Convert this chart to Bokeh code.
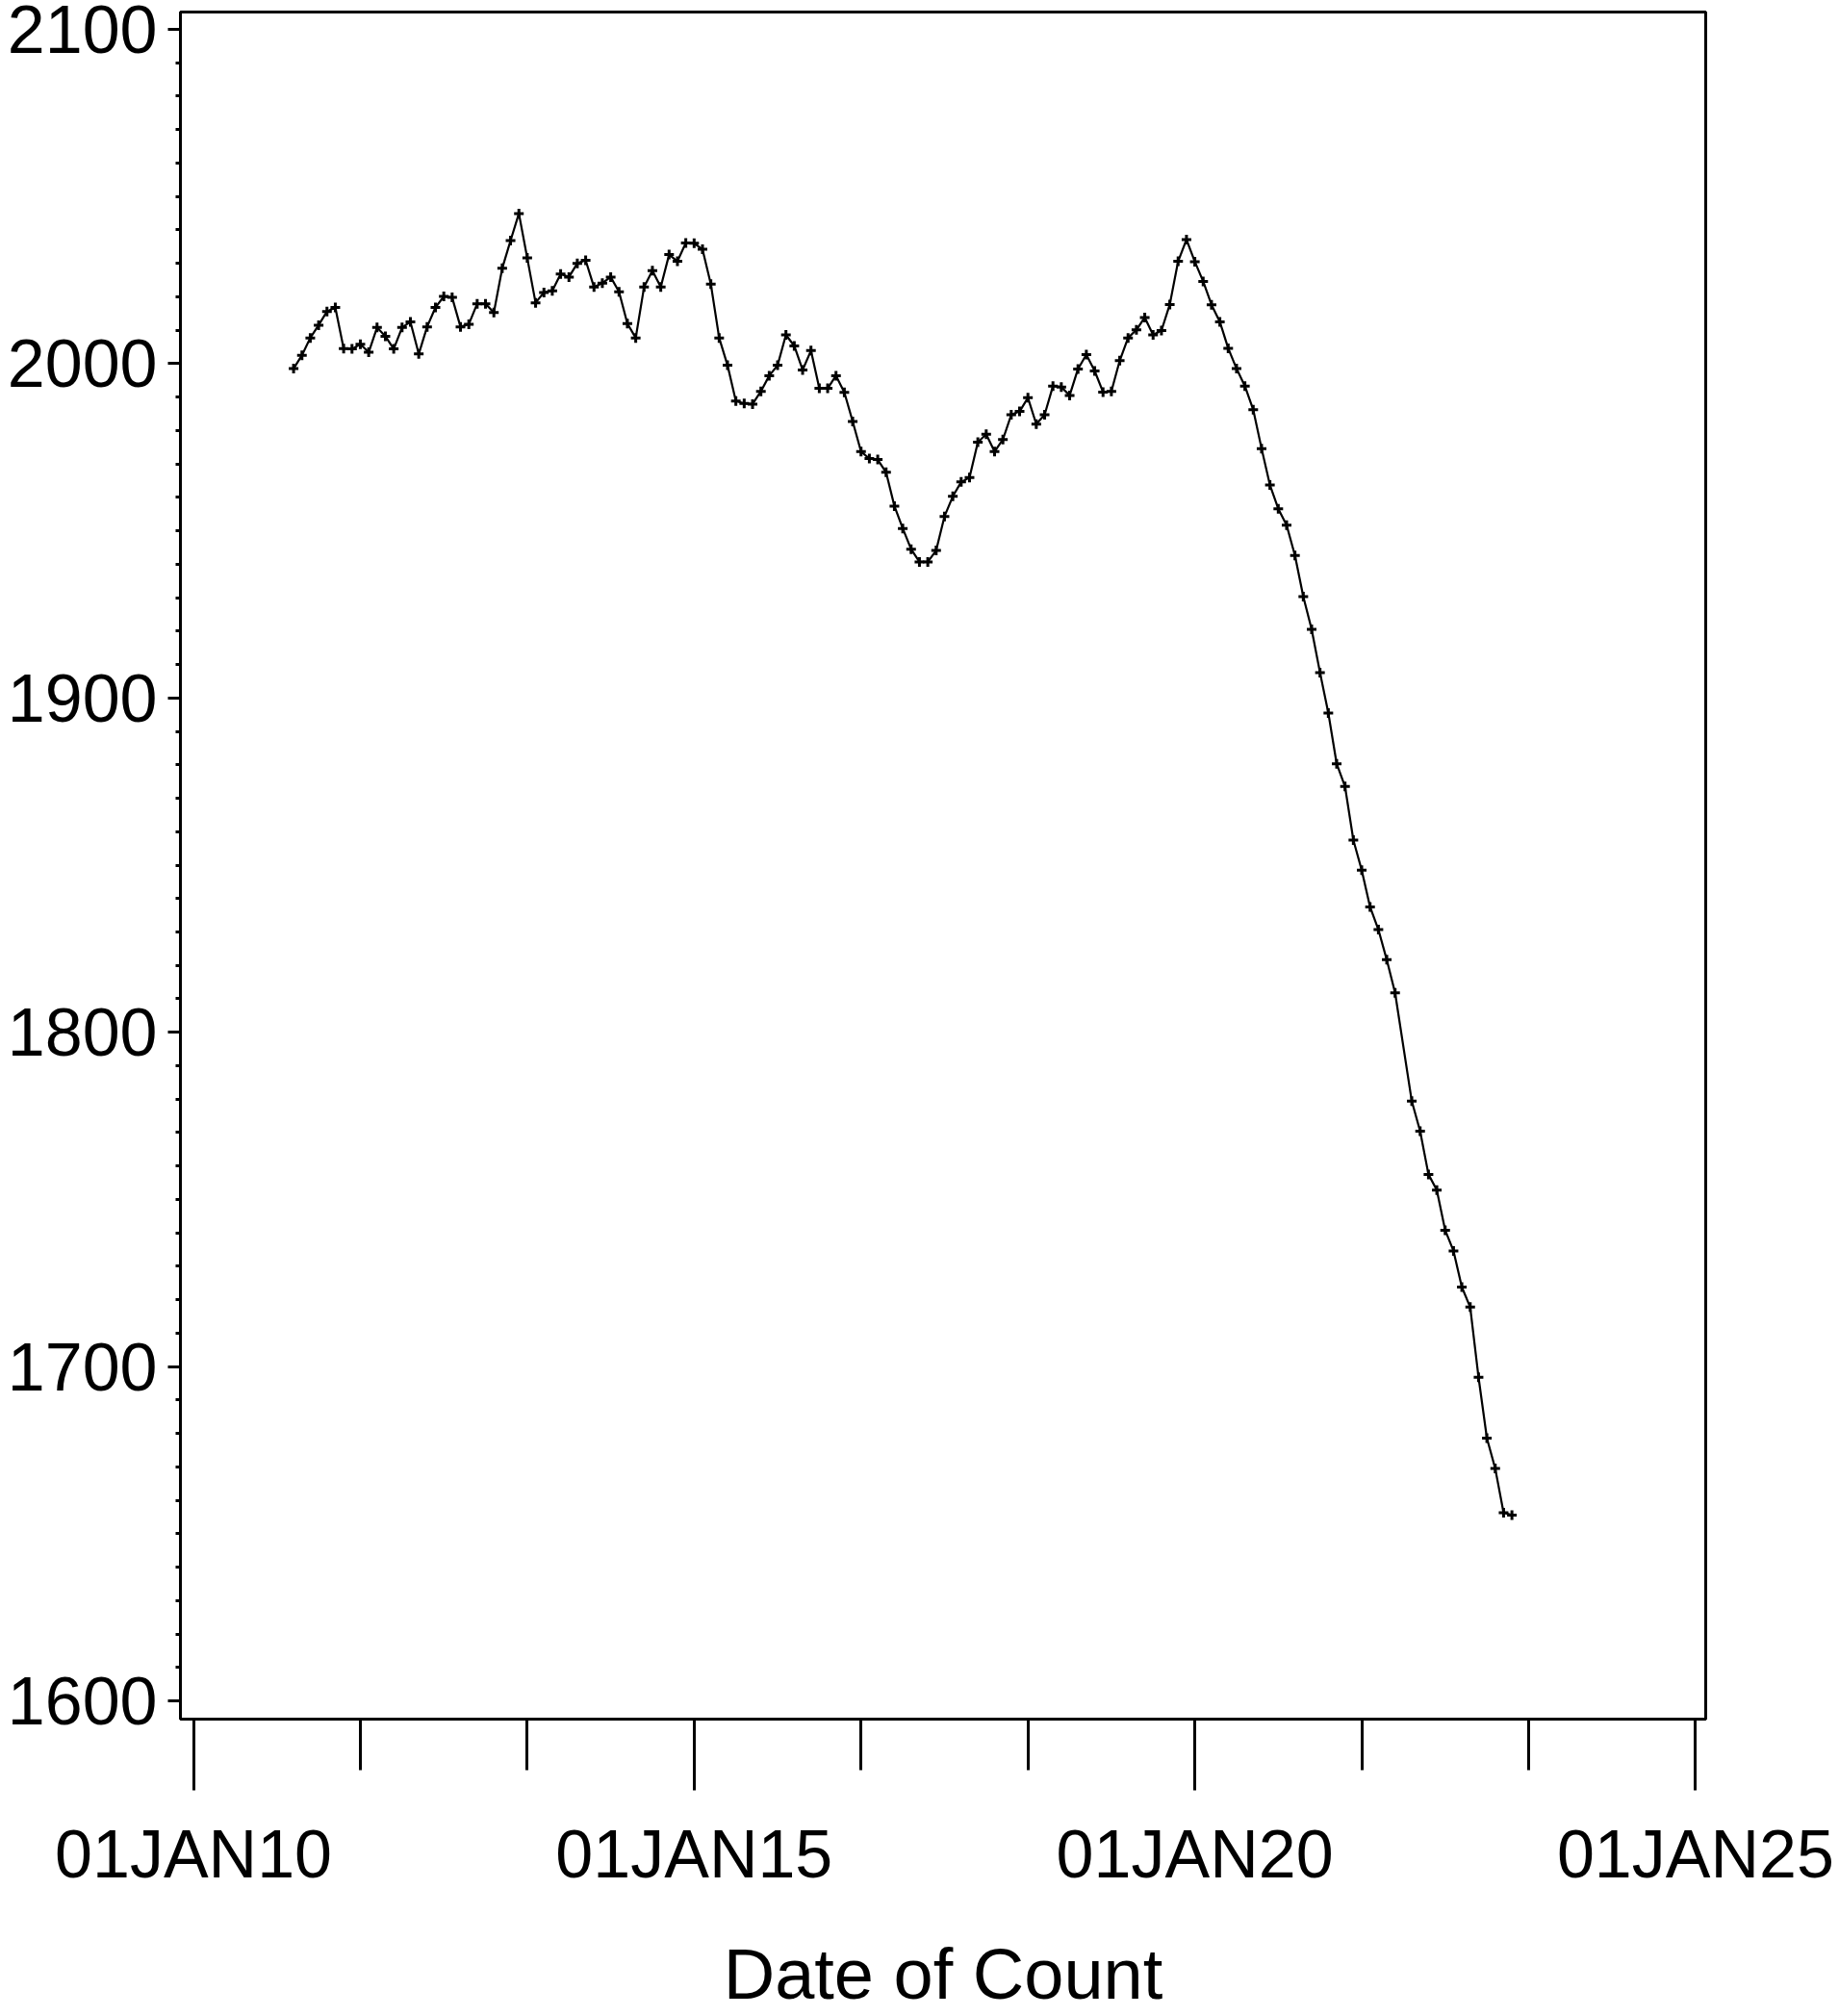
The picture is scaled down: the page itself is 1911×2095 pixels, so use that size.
import pandas as pd
from bokeh.plotting import figure
from bokeh.models import FixedTicker, Range1d, ColumnDataSource
from bokeh.embed import file_html
from bokeh.resources import INLINE

# ---------------- data ----------------
first_month = "2011-01"
last_month = "2023-03"
missing_months = ["2022-02"]

counts = [
    1998.5, 2002.5, 2007.7, 2011.5, 2015.6, 2016.8, 2004.5, 2004.4, 2005.8, 2003.4, 2010.8, 2008.2,
    2004.4, 2010.8, 2012.5, 2002.9, 2011.0, 2016.8, 2020.1, 2019.8, 2011.0, 2011.8, 2017.9, 2017.9,
    2015.3, 2028.5, 2036.8, 2044.9, 2031.6, 2018.2, 2021.3, 2021.8, 2026.8, 2025.9, 2030.0, 2030.9,
    2022.9, 2024.1, 2025.9, 2021.5, 2012.0, 2007.7, 2022.9, 2027.8, 2022.9, 2032.6, 2030.6, 2036.1,
    2036.0, 2034.2, 2023.8, 2007.7, 1999.5, 1988.8, 1988.1, 1987.9, 1991.7, 1996.4, 1999.5, 2008.6,
    2005.3, 1998.1, 2003.9, 1992.6, 1992.6, 1996.4, 1991.4, 1982.7, 1973.7, 1971.6, 1971.3, 1967.5,
    1957.4, 1950.7, 1944.5, 1940.7, 1940.7, 1944.1, 1954.3, 1960.3, 1964.6, 1965.9, 1976.5, 1978.9,
    1973.7, 1977.3, 1984.7, 1985.7, 1989.8, 1981.9, 1984.7, 1993.3, 1993.0, 1990.5, 1998.4, 2002.7,
    1997.8, 1991.5, 1991.7, 2000.9, 2007.7, 2010.1, 2013.8, 2008.6, 2009.9, 2017.7, 2030.6, 2037.1,
    2030.5, 2024.6, 2017.6, 2012.5, 2004.6, 1998.5, 1993.3, 1986.2, 1974.6, 1963.7, 1956.6, 1951.7,
    1942.6, 1930.3, 1920.5, 1907.6, 1895.5, 1880.3, 1873.5, 1857.5, 1848.5, 1837.5, 1830.7, 1821.7,
    1811.8, 1779.4, 1770.4, 1757.5, 1752.8, 1740.8, 1734.6, 1723.8, 1717.8, 1696.8, 1678.6, 1669.5,
    1656.3, 1655.6,
]

x_tick_years = [2010, 2015, 2020, 2025]
x_tick_labels = ["01JAN10", "01JAN15", "01JAN20", "01JAN25"]
y_ticks = [1600, 1700, 1800, 1900, 2000, 2100]
y_tick_labels = ["1600", "1700", "1800", "1900", "2000", "2100"]
x_axis_title = "Date of Count"

# ---------------- derived ----------------
months = [m for m in pd.period_range(first_month, last_month, freq="M")
          if str(m) not in missing_months]
n = min(len(months), len(counts))
months = months[:n]
counts = counts[:n]
x_pos = [m.year + (m.month - 1) / 12.0 for m in months]
src = ColumnDataSource(dict(x=x_pos, y=counts))

x_minor = []
for a, b in zip(x_tick_years[:-1], x_tick_years[1:]):
    step = (b - a) / 3.0
    x_minor += [a + step, a + 2 * step]
y_minor = list(range(y_ticks[0], y_ticks[-1] + 1, 10))

FONT = "Liberation Sans"

p = figure(width=1911, height=2095, output_backend="svg", toolbar_location=None,
           x_range=Range1d(2009.870, 2025.102), y_range=Range1d(1594.55, 2105.17),
           min_border_left=187, min_border_right=139, min_border_top=12,
           min_border_bottom=304)

p.xgrid.visible = False
p.ygrid.visible = False
p.outline_line_color = "black"
p.outline_line_width = 3
p.outline_line_alpha = 1.0
p.background_fill_color = "white"
p.border_fill_color = "white"

xa = p.xaxis[0]
xa.ticker = FixedTicker(ticks=x_tick_years, minor_ticks=x_minor)
xa.major_label_overrides = {t: l for t, l in zip(x_tick_years, x_tick_labels)}
xa.axis_line_color = None
xa.major_tick_in = 0
xa.major_tick_out = 74
xa.minor_tick_in = 0
xa.minor_tick_out = 53
xa.major_tick_line_width = 3
xa.minor_tick_line_width = 3
xa.major_tick_line_color = "black"
xa.minor_tick_line_color = "black"
xa.major_label_text_font = FONT
xa.major_label_text_font_size = "70px"
xa.major_label_text_color = "black"
xa.major_label_standoff = 27
xa.axis_label = x_axis_title
xa.axis_label_text_font = FONT
xa.axis_label_text_font_size = "74px"
xa.axis_label_text_font_style = "normal"
xa.axis_label_text_color = "black"
xa.axis_label_standoff = 41

ya = p.yaxis[0]
ya.ticker = FixedTicker(ticks=y_ticks, minor_ticks=y_minor)
ya.major_label_overrides = {t: l for t, l in zip(y_ticks, y_tick_labels)}
ya.axis_line_color = None
ya.major_tick_in = 0
ya.major_tick_out = 13
ya.minor_tick_in = 0
ya.minor_tick_out = 5
ya.major_tick_line_width = 3
ya.minor_tick_line_width = 3
ya.major_tick_line_color = "black"
ya.minor_tick_line_color = "black"
ya.major_label_text_font = FONT
ya.major_label_text_font_size = "70px"
ya.major_label_text_color = "black"
ya.major_label_standoff = 11

p.line("x", "y", source=src, line_color="black", line_width=2.2)
p.scatter("x", "y", source=src, marker="cross", size=10, line_color="black", line_width=3)

open("out.html", "w").write(file_html(p, INLINE))
